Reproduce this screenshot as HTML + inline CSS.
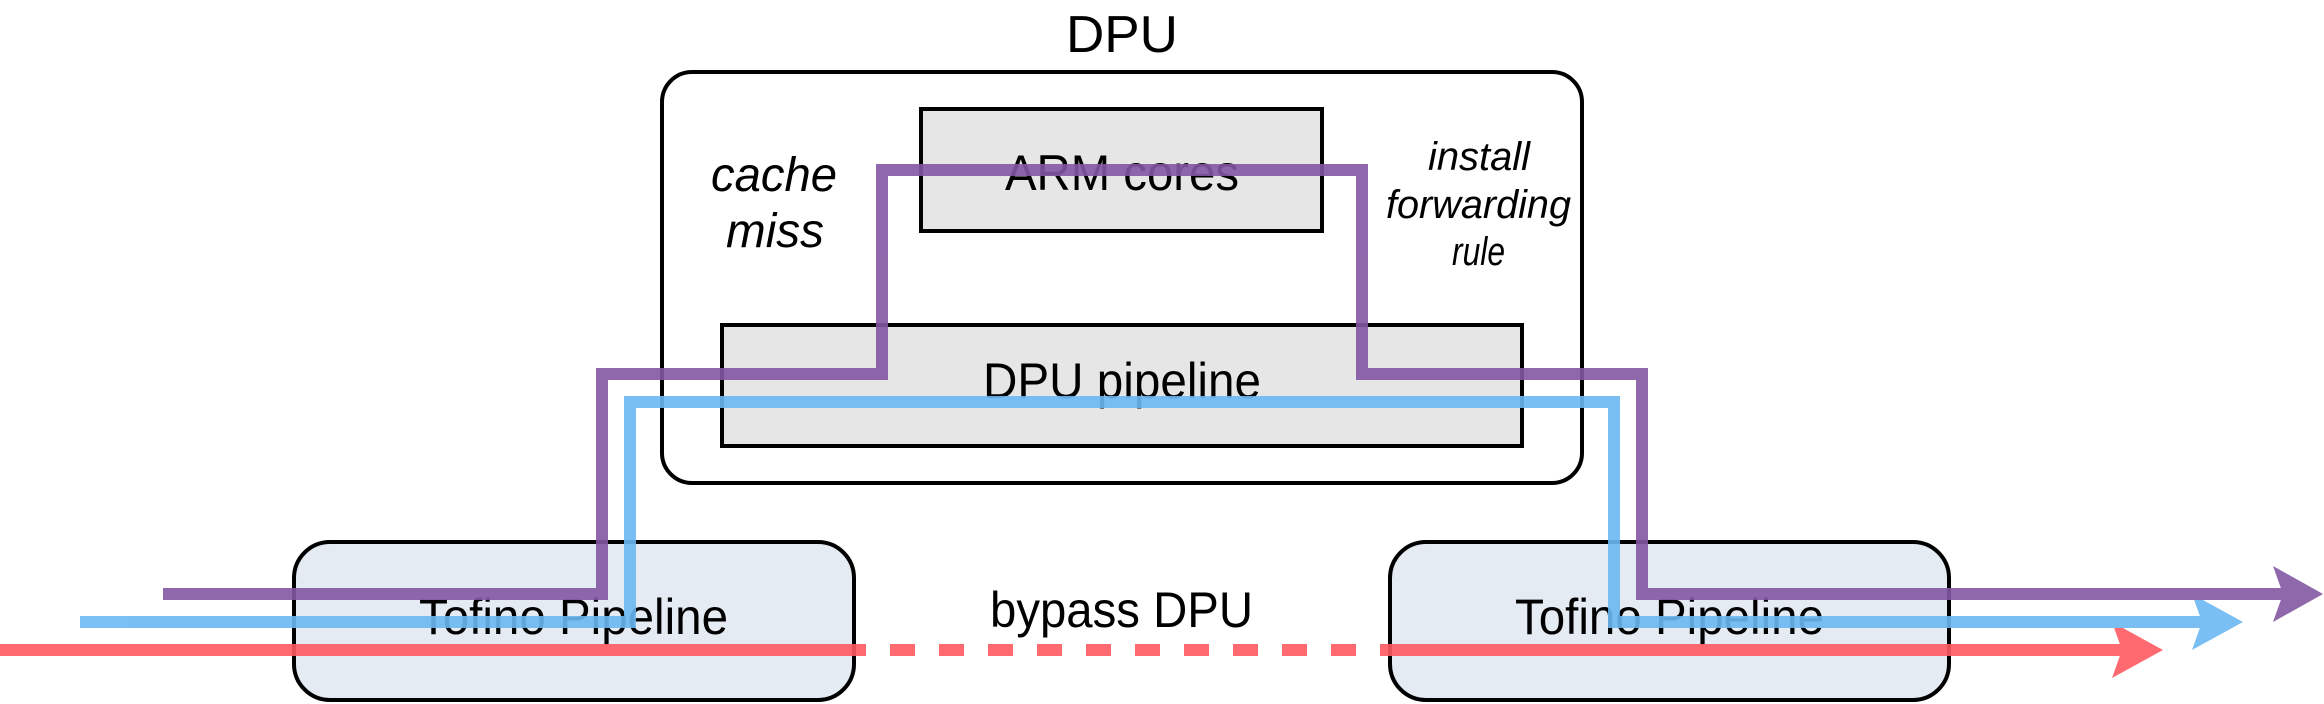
<!DOCTYPE html>
<html><head><meta charset="utf-8"><style>
html,body{margin:0;padding:0;background:#fff;}
svg{display:block;}
text{font-family:"Liberation Sans",Arial,sans-serif;fill:#000;}
</style></head><body>
<svg width="2324" height="704" viewBox="0 0 2324 704" xmlns="http://www.w3.org/2000/svg">
<rect x="662" y="72" width="920" height="411" rx="30" fill="#fff" stroke="#000" stroke-width="4"/>
<rect x="921" y="109" width="401" height="122" fill="#e6e6e6" stroke="#000" stroke-width="4"/>
<rect x="722" y="325" width="800" height="121" fill="#e6e6e6" stroke="#000" stroke-width="4"/>
<rect x="294" y="542" width="560" height="158" rx="36" fill="#e4ebf2" stroke="#000" stroke-width="4"/>
<rect x="1390" y="542" width="559" height="158" rx="36" fill="#e4ebf2" stroke="#000" stroke-width="4"/>

<text x="1066" y="52" font-size="52" textLength="112" lengthAdjust="spacingAndGlyphs">DPU</text>
<text x="1005" y="190" font-size="50" textLength="234" lengthAdjust="spacingAndGlyphs">ARM cores</text>
<text x="983" y="398" font-size="50" textLength="278" lengthAdjust="spacingAndGlyphs">DPU pipeline</text>
<text x="419" y="634" font-size="50" textLength="309" lengthAdjust="spacingAndGlyphs">Tofino Pipeline</text>
<text x="1515" y="634" font-size="50" textLength="309" lengthAdjust="spacingAndGlyphs">Tofino Pipeline</text>
<text x="990" y="627" font-size="50" textLength="263" lengthAdjust="spacingAndGlyphs">bypass DPU</text>
<text x="711" y="191" font-size="48" font-style="italic" textLength="126" lengthAdjust="spacingAndGlyphs">cache</text>
<text x="726" y="247" font-size="48" font-style="italic" textLength="98" lengthAdjust="spacingAndGlyphs">miss</text>
<text x="1428" y="170" font-size="40" font-style="italic" textLength="102" lengthAdjust="spacingAndGlyphs">install</text>
<text x="1386" y="218" font-size="40" font-style="italic" textLength="185" lengthAdjust="spacingAndGlyphs">forwarding</text>
<text x="1452" y="265" font-size="40" font-style="italic" textLength="53" lengthAdjust="spacingAndGlyphs">rule</text>

<g opacity="0.9">
<polyline points="0,650 866,650" stroke="#ff5a62" stroke-width="12" fill="none"/>
<line x1="890" y1="650" x2="1388" y2="650" stroke="#ff5a62" stroke-width="12" stroke-dasharray="25,24"/>
<polyline points="1380,650 2140,650" stroke="#ff5a62" stroke-width="12" fill="none"/>
<path d="M2163,650 L2112,622 L2122,650 L2112,678 Z" fill="#ff5a62"/>

<polyline points="80,622 630,622 630,402 1614,402 1614,622 2220,622" stroke="#6cb9f3" stroke-width="12" fill="none"/>
<path d="M2243,622 L2192,594 L2202,622 L2192,650 Z" fill="#6cb9f3"/>

<polyline points="163,594 602,594 602,374 882,374 882,170 1362,170 1362,374 1642,374 1642,594 2300,594" stroke="#8357a3" stroke-width="12" fill="none"/>
<path d="M2323,594 L2273,566 L2283,594 L2273,622 Z" fill="#8357a3"/>
</g>
</svg>
</body></html>
